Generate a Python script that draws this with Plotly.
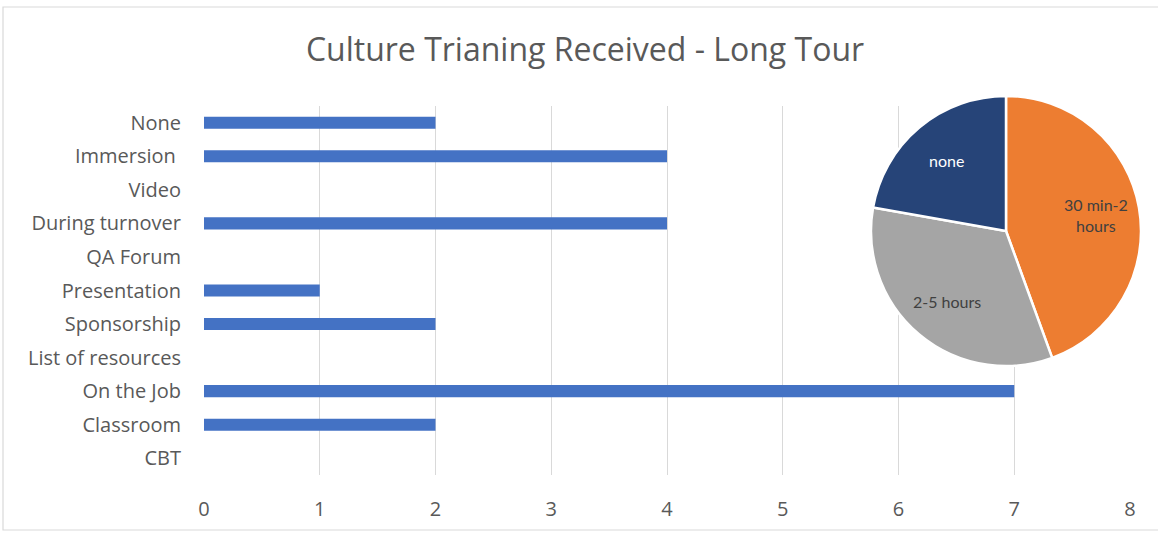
import math
import plotly.graph_objects as go

categories = ["None", "Immersion ", "Video", "During turnover", "QA Forum", "Presentation",
              "Sponsorship", "List of resources", "On the Job", "Classroom", "CBT"]
counts = [2, 4, 0, 4, 0, 1, 2, 0, 7, 2, 0]

pie_labels = ["30 min-2<br>hours", "2-5 hours", "none"]
pie_values = [4, 3, 2]
pie_colors = ["#ED7D31", "#A5A5A5", "#264478"]
pie_text_colors = ["#404040", "#404040", "#FFFFFF"]

x_ticks = [0, 1, 2, 3, 4, 5, 6, 7, 8]

W, H = 1158, 533
PIE_X = (869, 1143)   # pixel box of pie domain
PIE_Y = (96, 366)

fig = go.Figure()
fig.add_trace(go.Bar(
    y=categories, x=counts, orientation="h",
    marker=dict(color="#4472C4", line=dict(width=0)),
    width=0.36, showlegend=False, hoverinfo="x+y",
))
fig.add_trace(go.Pie(
    labels=pie_labels, values=pie_values,
    textinfo="none",
    sort=False, direction="clockwise", rotation=0,
    marker=dict(colors=pie_colors, line=dict(color="white", width=2.5)),
    domain=dict(x=[PIE_X[0] / W, PIE_X[1] / W], y=[(H - PIE_Y[1]) / H, (H - PIE_Y[0]) / H]),
    showlegend=False,
))

# slice labels placed along each slice's mid-angle (derived from the data)
cx = (PIE_X[0] + PIE_X[1]) / 2
cy = (PIE_Y[0] + PIE_Y[1]) / 2
R = min(PIE_X[1] - PIE_X[0], PIE_Y[1] - PIE_Y[0]) / 2
total = sum(pie_values)
cum = 0
annotations = []
for lab, val, col in zip(pie_labels, pie_values, pie_text_colors):
    mid = (cum + val / 2) / total * 2 * math.pi
    cum += val
    rf = 0.68
    px = cx + rf * R * math.sin(mid)
    py = cy - rf * R * math.cos(mid)
    annotations.append(dict(x=px / W, y=(H - py) / H, xref="paper", yref="paper",
                            text=lab, showarrow=False, xanchor="center", yanchor="middle",
                            font=dict(family="Lato", size=16, color=col)))

fig.update_layout(
    width=W, height=H,
    margin=dict(l=0, r=0, t=0, b=0, autoexpand=False),
    paper_bgcolor="white", plot_bgcolor="white",
    title=dict(text="Culture Trianing Received - Long Tour", x=585 / W, xanchor="center",
               y=(H - 50) / H, yanchor="middle", automargin=False,
               font=dict(family="Open Sans", size=32, color="#595959")),
    xaxis=dict(domain=[204 / W, 1130 / W], range=[0, 8], tickvals=x_ticks,
               showgrid=True, gridcolor="#D9D9D9", gridwidth=1.3, zeroline=False,
               showline=False, ticks="", ticklabelstandoff=20, automargin=False,
               tickfont=dict(family="Open Sans", size=20, color="#595959")),
    yaxis=dict(domain=[(H - 475) / H, (H - 106) / H], categoryorder="array",
               categoryarray=categories, autorange="reversed",
               showgrid=False, zeroline=False, showline=False, ticks="",
               ticklabelstandoff=22, automargin=False,
               tickfont=dict(family="Open Sans", size=20, color="#595959")),
    shapes=[dict(type="rect", xref="paper", yref="paper", x0=3 / W, x1=1.2, y0=(H - 530) / H,
                 y1=(H - 7) / H, line=dict(color="#D9D9D9", width=1.2), fillcolor="rgba(0,0,0,0)")],
    annotations=annotations,
    bargap=0.64,
)
fig.write_html("out.html", config={"displayModeBar": False},
               post_script="document.body.style.margin='0';document.body.style.overflow='hidden';")
